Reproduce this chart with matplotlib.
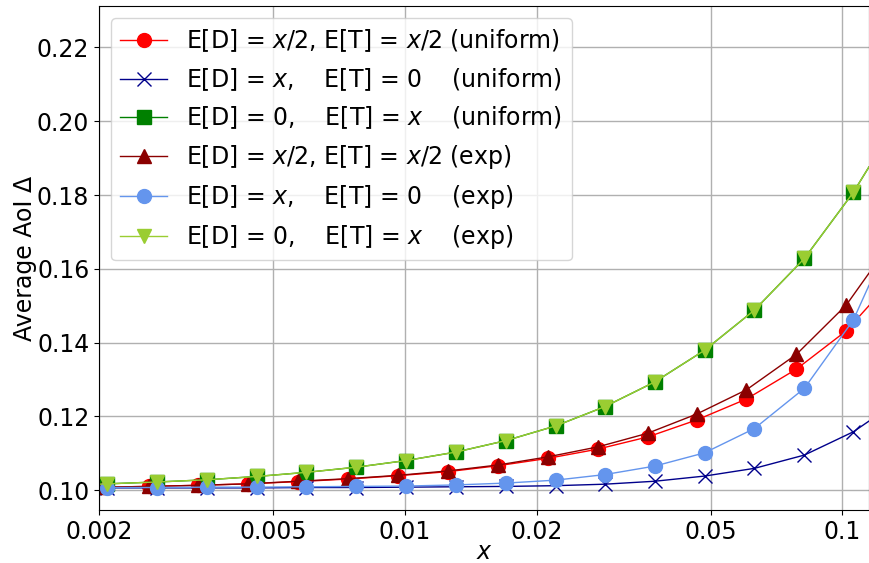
import numpy as np
import matplotlib
matplotlib.use("Agg")
import matplotlib.pyplot as plt
from matplotlib.ticker import NullLocator, FixedLocator, FixedFormatter

# x positions (line start, marker points, line end)
x_grp_a = [0.002, 0.00209, 0.00272, 0.00353, 0.00459, 0.00594, 0.00773, 0.01005, 0.01307,
           0.0170, 0.02212, 0.02861, 0.03722, 0.04840, 0.06295, 0.08188, 0.1059, 0.115]
x_grp_b = [0.002, 0.002044, 0.002603, 0.003367, 0.004381, 0.005697, 0.007412, 0.009638, 0.01254,
           0.01631, 0.02121, 0.02758, 0.03587, 0.04642, 0.06037, 0.07852, 0.1021, 0.115]

# E[D]=x/2, E[T]=x/2 (uniform)
half_uni = [0.1008, 0.1008, 0.1010, 0.1013, 0.1017, 0.1023, 0.1030, 0.1039, 0.1050,
            0.1066, 0.1086, 0.1111, 0.1144, 0.1190, 0.1247, 0.1328, 0.1432, 0.1500]
# E[D]=x, E[T]=0 (uniform)
d_uni = [0.1006, 0.1006, 0.1006, 0.1006, 0.1006, 0.1007, 0.1007, 0.1008, 0.1009,
         0.1010, 0.1012, 0.1016, 0.1024, 0.1038, 0.1059, 0.1095, 0.1158, 0.1187]
# E[D]=0, E[T]=x (uniform)
t_uni = [0.1016, 0.1017, 0.1022, 0.1028, 0.1037, 0.1048, 0.1062, 0.1080, 0.1103,
         0.1134, 0.1174, 0.1226, 0.1293, 0.1379, 0.1488, 0.1628, 0.1807, 0.1876]
# E[D]=x/2, E[T]=x/2 (exp)
half_exp = [0.1008, 0.1008, 0.1010, 0.1013, 0.1017, 0.1024, 0.1031, 0.1040, 0.1052,
            0.1068, 0.1090, 0.1117, 0.1154, 0.1206, 0.1272, 0.1368, 0.1502, 0.1588]
# E[D]=x, E[T]=0 (exp)
d_exp = [0.1007, 0.1007, 0.1007, 0.1008, 0.1008, 0.1009, 0.1010, 0.1011, 0.1014,
         0.1019, 0.1027, 0.1042, 0.1065, 0.1101, 0.1167, 0.1276, 0.1461, 0.1555]
# E[D]=0, E[T]=x (exp)
t_exp = t_uni

labels = [
    r"E[D] = $x$/2, E[T] = $x$/2 (uniform)",
    r"E[D] = $x$,    E[T] = 0    (uniform)",
    r"E[D] = 0,    E[T] = $x$    (uniform)",
    r"E[D] = $x$/2, E[T] = $x$/2 (exp)",
    r"E[D] = $x$,    E[T] = 0    (exp)",
    r"E[D] = 0,    E[T] = $x$    (exp)",
]

xticks = [0.002, 0.005, 0.01, 0.02, 0.05, 0.1]
xticklabels = ["0.002", "0.005", "0.01", "0.02", "0.05", "0.1"]
yticks = [0.10, 0.12, 0.14, 0.16, 0.18, 0.20, 0.22]

plt.rcParams['font.size'] = 17

fig = plt.figure(figsize=(8.7, 5.63), dpi=100)
ax = fig.add_axes([0.1138, 0.0941, 0.885, 0.895])

mk = slice(1, -1)
ax.plot(x_grp_b, half_uni, color='red', marker='o', ms=10, lw=1, markevery=mk, label=labels[0])
ax.plot(x_grp_a, d_uni, color='darkblue', marker='x', ms=10, mew=1, lw=1, markevery=mk, label=labels[1])
ax.plot(x_grp_a, t_uni, color='green', marker='s', ms=10, lw=1, markevery=mk, label=labels[2])
ax.plot(x_grp_b, half_exp, color='darkred', marker='^', ms=10, lw=1, markevery=mk, label=labels[3])
ax.plot(x_grp_a, d_exp, color='cornflowerblue', marker='o', ms=10, lw=1, markevery=mk, label=labels[4])
ax.plot(x_grp_a, t_exp, color='yellowgreen', marker='v', ms=10, lw=1, markevery=mk, label=labels[5])

ax.set_xscale('log')
ax.set_xlim(0.002, 0.115)
ax.set_ylim(0.0946, 0.2312)
ax.xaxis.set_major_locator(FixedLocator(xticks))
ax.xaxis.set_major_formatter(FixedFormatter(xticklabels))
ax.xaxis.set_minor_locator(NullLocator())
ax.set_yticks(yticks)
ax.set_yticklabels(["%.2f" % v for v in yticks])
ax.grid(True, color='#b0b0b0', lw=1)

ax.set_xlabel("$x$", labelpad=-3)
ax.set_ylabel("Average AoI Δ", labelpad=0)
ax.legend(loc='upper left', fontsize=17, borderaxespad=0.5)

fig.savefig("out.png", dpi=100)
